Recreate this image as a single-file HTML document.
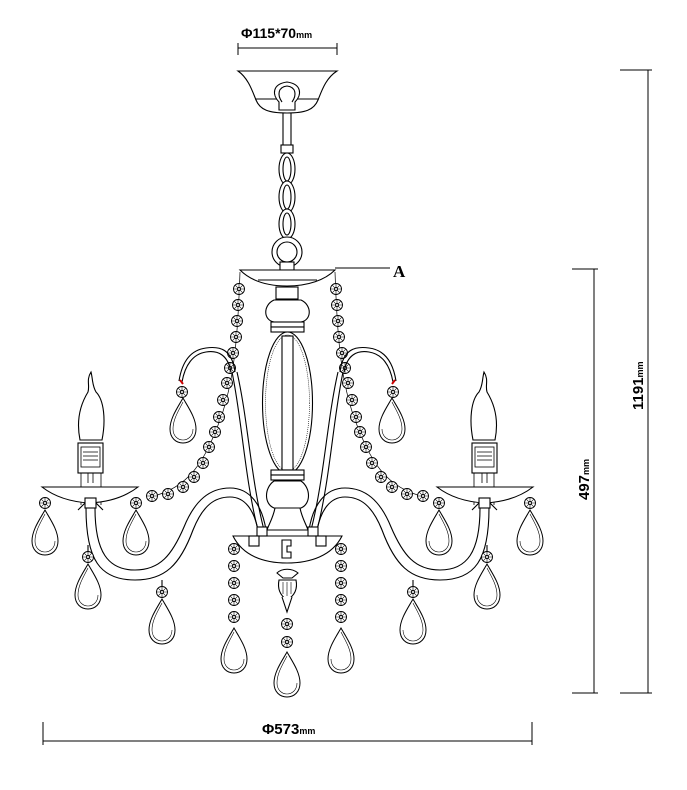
<!DOCTYPE html>
<html><head><meta charset="utf-8"><style>
html,body{margin:0;padding:0;background:#fff}
svg{display:block}
text{font-family:"Liberation Sans",sans-serif;font-weight:bold;fill:#000}
</style></head><body>
<svg width="687" height="790" viewBox="0 0 687 790" xmlns="http://www.w3.org/2000/svg">
<defs>
<g id="bead" fill="#fff" stroke="#000" stroke-width="0.9">
<circle r="5.5"/>
<path d="M-5.5,0H5.5M0,-5.5V5.5M-3.9,-3.9L3.9,3.9M-3.9,3.9L3.9,-3.9" stroke-width="0.6"/>
<circle r="1.5"/>
</g>
<g id="drop" fill="#fff" stroke="#000" stroke-width="1">
<path d="M0,0 C-5,9 -13,20 -13,31 C-13,40 -7,45 0,45 C7,45 13,40 13,31 C13,20 5,9 0,0Z"/>
<path d="M0,4 C-4,12 -10,21 -10,31 C-10,38 -5,42 0,42 C5,42 10,38 10,31" fill="none" stroke-width="0.6"/>
</g>
<g id="half" fill="none" stroke="#000" stroke-width="1.1">
<path d="M240,272 C238,330 235,380 220,420 C205,460 190,488 150,497" stroke-width="0.7"/>
<use href="#bead" x="239" y="289"/><use href="#bead" x="238" y="305"/><use href="#bead" x="237" y="321"/>
<use href="#bead" x="236" y="337"/><use href="#bead" x="233" y="353"/><use href="#bead" x="230" y="368"/>
<use href="#bead" x="227" y="383"/><use href="#bead" x="223" y="400"/><use href="#bead" x="219" y="417"/>
<use href="#bead" x="215" y="432"/><use href="#bead" x="209" y="447"/><use href="#bead" x="203" y="463"/>
<use href="#bead" x="194" y="477"/><use href="#bead" x="183" y="487"/><use href="#bead" x="168" y="494"/>
<use href="#bead" x="152" y="496"/>
<path d="M231,372 C228,355 218,350 206,352 C193,354 185,365 182,382"/>
<path d="M235,372 C232,349 220,346 206,348 C190,350 182,362 179,381"/>
<path d="M180,380 L183,384" stroke="#c00" stroke-width="2"/>
<use href="#bead" x="182" y="392"/>
<use href="#drop" x="183" y="398"/>
<path d="M232,372 C242,420 245,480 258,530" />
<path d="M237,372 C248,420 251,480 264,530" />
<path d="M91,372 C86,380 90,385 88,392 C80,405 76,420 80,440 L102,440 C106,420 104,400 96,392 C92,385 93,380 91,372Z" fill="#fff"/>
<rect x="78" y="443" width="25" height="30" fill="#fff"/>
<rect x="81" y="447" width="19" height="20" stroke-width="0.8"/>
<path d="M83,452H98M83,456H98M83,460H98" stroke-width="0.8"/>
<path d="M88,473V483M93,473V483M81,473V505M101,473V505" stroke-width="0.8"/>
<path d="M42,487 H138 C125,497 110,502 90,503 C70,502 55,497 42,487Z" fill="#fff"/>
<rect x="85" y="498" width="11" height="10" fill="#fff"/>
<path d="M78,510 L85,503 M103,510 L96,503"/>
<use href="#bead" x="45" y="503"/><use href="#drop" x="45" y="510"/>
<use href="#bead" x="136" y="503"/><use href="#drop" x="136" y="510"/>
<path d="M86,508 C86,560 100,580 135,580 C165,580 180,565 193,530 C203,505 215,497 230,497 C245,497 254,510 258,530"/>
<path d="M95,508 C95,552 108,570 135,570 C160,570 172,555 184,527 C195,500 210,488 230,488 C250,488 262,505 266,530"/>
<use href="#bead" x="88" y="557"/><use href="#drop" x="88" y="564"/>
<path d="M88,552V545M162,586V580"/>
<use href="#bead" x="162" y="592"/><use href="#drop" x="162" y="599"/>
<use href="#bead" x="234" y="549"/><use href="#bead" x="234" y="566"/><use href="#bead" x="234" y="583"/>
<use href="#bead" x="234" y="600"/><use href="#bead" x="234" y="617"/>
<use href="#drop" x="234" y="628"/>
</g>
</defs>

<text x="241" y="38" font-size="14">Φ115*70<tspan font-size="9">mm</tspan></text>
<path d="M238,48H337M238,43V55M337,43V55" stroke="#000" stroke-width="1"/>

<g fill="#fff" stroke="#000" stroke-width="1.1">
<rect x="283" y="108" width="8" height="42"/>
<rect x="281" y="145" width="12" height="8"/>
<path d="M238,71 H337 C326,78 322,90 318,100 C314,110 305,113 287,113 C269,113 260,110 256,100 C252,90 248,78 238,71Z"/>
<path d="M255,99 H319"/>
<path d="M279,110 V102 C272,95 272,84 287,82 C302,84 302,95 295,102 V110Z"/>
<path d="M282,102 C277,95 278,87 287,86 C296,87 297,95 292,102"/>
<ellipse cx="287" cy="169" rx="8" ry="16"/><ellipse cx="287" cy="169" rx="4" ry="12"/>
<ellipse cx="287" cy="197" rx="8" ry="16"/><ellipse cx="287" cy="197" rx="4" ry="12"/>
<ellipse cx="287" cy="224" rx="8" ry="15"/><ellipse cx="287" cy="224" rx="4" ry="11"/>
<circle cx="287" cy="252" r="15"/><circle cx="287" cy="252" r="10"/>
<rect x="280" y="262" width="14" height="8"/>
<path d="M240,270 H335 C325,280 308,286 287,286 C266,286 250,280 240,270Z"/>
<path d="M258,280 H317"/>
<rect x="276" y="287" width="22" height="12"/>
<path d="M274,300 H301 C312,305 312,320 301,322 H274 C263,320 263,305 274,300Z"/>
<rect x="271" y="322" width="33" height="5"/><rect x="271" y="327" width="33" height="5"/>
<ellipse cx="287.5" cy="403" rx="25" ry="71"/>
<ellipse cx="287.5" cy="403" rx="22" ry="68" stroke-dasharray="1 1" stroke-width="0.6"/>
<rect x="282" y="336" width="11" height="134"/>
<rect x="271" y="470" width="33" height="5"/><rect x="271" y="475" width="33" height="5"/>
<path d="M274,481 H301 C311,488 311,504 301,508 H274 C264,504 264,488 274,481Z"/>
<path d="M275,508 H300 C302,518 306,524 308,530 H267 C269,524 273,518 275,508Z"/>
</g>
<path d="M335,268 H390" stroke="#000" stroke-width="1"/>
<text x="393" y="277" font-size="17" style="font-family:'Liberation Serif',serif">A</text>

<use href="#half"/>
<use href="#half" transform="translate(575,0) scale(-1,1)"/>

<g fill="#fff" stroke="#000" stroke-width="1.1">
<path d="M233,536 H342 C332,556 310,563 287,563 C264,563 243,556 233,536Z"/>
<rect x="257" y="527" width="10" height="9"/><rect x="308" y="527" width="10" height="9"/>
<rect x="249" y="536" width="10" height="10"/><rect x="316" y="536" width="10" height="10"/>
<path d="M282,540 V558 H291 V552 H287 V546 H291 V540Z"/>
<path d="M277,573 C282,568 292,568 298,573 L292,578 H283Z"/>
<path d="M279,580 H296 C298,590 294,596 287,600 C281,596 277,590 279,580Z"/>
<path d="M283,582V594M287,582V596M291,582V594" stroke-width="0.6"/>
<path d="M282,597 L287,612 L292,597"/>
</g>
<use href="#bead" x="287" y="624"/><use href="#bead" x="287" y="642"/>
<use href="#drop" x="287" y="652"/>

<path d="M572,269H598M594,269V693M572,693H598M620,693H652M648,70V693M620,70H652" stroke="#000" stroke-width="1" fill="none"/>
<text transform="translate(589,500) rotate(-90)" font-size="15">497<tspan font-size="9">mm</tspan></text>
<text transform="translate(643,410) rotate(-90)" font-size="15">1191<tspan font-size="9">mm</tspan></text>
<path d="M43,741H532M43,722V745M532,722V745" stroke="#000" stroke-width="1"/>
<text x="262" y="734" font-size="15">Φ573<tspan font-size="9">mm</tspan></text>
</svg>
</body></html>
